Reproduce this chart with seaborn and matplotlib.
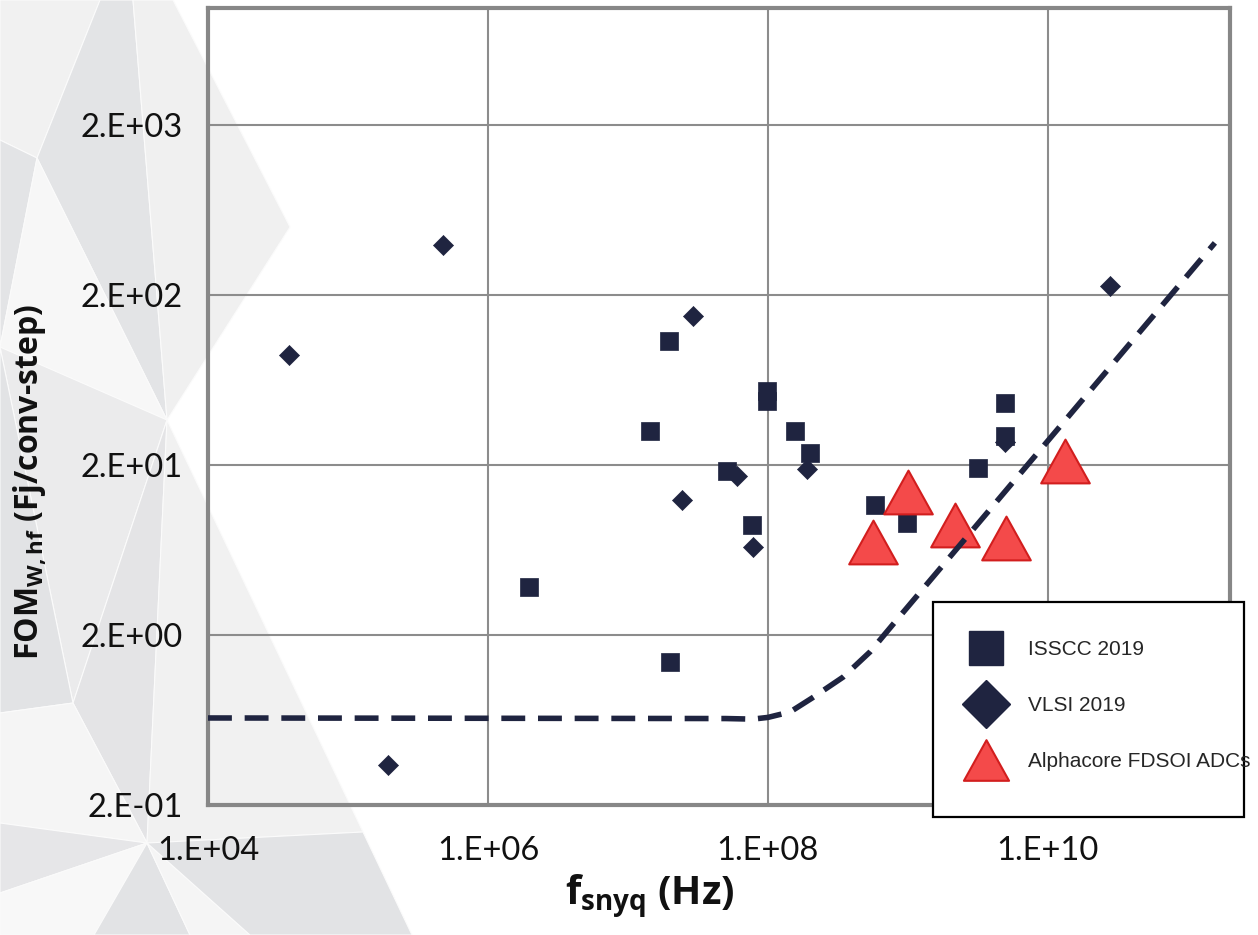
import numpy as np
import pandas as pd
import matplotlib
matplotlib.use("Agg")
import matplotlib.pyplot as plt
import seaborn as sns
from matplotlib.path import Path
from matplotlib.lines import Line2D
from matplotlib.patches import Polygon, Rectangle
from matplotlib.ticker import FixedLocator, FuncFormatter, NullLocator

# ---------------------------------------------------------------- data
# ISSCC 2019 converters: Nyquist frequency (Hz) and FOM_W,hf (fJ/conv-step)
isscc_f = [1.96e6, 1.44e7, 1.96e7, 2.0e7, 5.07e7, 7.69e7, 9.8e7, 9.8e7,
           1.57e8, 2.0e8, 5.78e8, 9.9e8, 3.16e9, 4.93e9, 4.93e9]
isscc_fom = [3.83, 31.8, 107.7, 1.39, 18.5, 8.83, 54.5, 47.3,
             31.8, 23.4, 11.6, 9.08, 19.3, 46.1, 29.6]

# VLSI 2019 converters
vlsi_f = [3.81e4, 1.94e5, 4.8e5, 2.44e7, 2.9e7, 6.04e7, 7.85e7, 1.91e8,
          4.93e9, 2.77e10]
vlsi_fom = [88.7, 0.344, 394, 12.4, 151, 17.3, 6.56, 18.9, 27.4, 227]

# Alphacore FDSOI ADCs
alpha_f = [5.6e8, 9.95e8, 2.17e9, 5.0e9, 1.32e10]
alpha_fom = [7.05, 13.9, 8.9, 7.46, 21.2]

# State-of-the-art envelope (dashed)
env_f = [1e4, 5e7, 7.8e7, 1.0e8, 1.44e8, 2.06e8, 3.44e8, 5.36e8, 8.07e8,
         1.56e11]
env_fom = [0.65, 0.645, 0.64, 0.655, 0.705, 0.85, 1.13, 1.59, 2.38, 405]

series_labels = ["ISSCC 2019", "VLSI 2019", "Alphacore FDSOI ADCs"]
x_ticks = [1e4, 1e6, 1e8, 1e10]
y_ticks = [2e-1, 2e0, 2e1, 2e2, 2e3]

# ---------------------------------------------------------------- style
sns.set_style("white")
plt.rcParams["font.family"] = ["Lato", "DejaVu Sans"]
plt.rcParams["mathtext.fontset"] = "custom"
plt.rcParams["mathtext.rm"] = "Open Sans"
plt.rcParams["mathtext.bf"] = "Open Sans:bold"
plt.rcParams["mathtext.it"] = "Open Sans:italic"

NAVY = "#1F2440"
RED = "#F44A4A"
RED_EDGE = "#D21E1E"
GRID = "#8C8C8C"
FRAME = "#878787"

W, H = 1258, 935
fig = plt.figure(figsize=(W / 100, H / 100), dpi=100)
fig.patch.set_facecolor("white")


def to_fig(pts):
    return [(x / W, 1 - y / H) for x, y in pts]


# low-poly slide backdrop on the left
A0, B, C, D = (0, 0), (100, 0), (133, 0), (173, 0)
E, F, G, Hh = (290, 227), (167, 420), (37, 158), (0, 140)
I, V1, J = (0, 347), (73, 703), (0, 713)
Hub, K, N = (147, 843), (363, 832), (412, 935)
Q1, Q2, Q3 = (0, 823), (0, 893), (0, 935)
R1, R2, R3 = (94, 935), (190, 935), (250, 935)
shards = [
    ([A0, B, G, Hh], "#F1F1F1"),
    ([B, C, F, G], "#E3E4E6"),
    ([C, D, E, F], "#F0F0F0"),
    ([Hh, G, I], "#E3E4E6"),
    ([G, F, I], "#F7F7F7"),
    ([I, F, V1], "#EBEBEC"),
    ([I, V1, J], "#E2E3E5"),
    ([F, Hub, V1], "#E4E4E6"),
    ([F, K, Hub], "#F1F1F1"),
    ([J, V1, Hub, Q1], "#F5F5F5"),
    ([Q1, Hub, Q2], "#E6E6E8"),
    ([Q2, Hub, R1, Q3], "#F8F8F8"),
    ([Hub, R1, R2], "#E2E3E5"),
    ([Hub, R2, R3], "#F5F5F5"),
    ([Hub, R3, N, K], "#E2E3E5"),
]
for pts, col in shards:
    fig.add_artist(Polygon(to_fig(pts), closed=True, facecolor=col,
                           edgecolor="#FBFBFB", lw=0.8,
                           transform=fig.transFigure, zorder=-10))

# ---------------------------------------------------------------- axes
ax = fig.add_axes([208 / W, 1 - 805 / H, (1230 - 208) / W, (805 - 8) / H])
ax.set_facecolor("none")
ax.set_xscale("log")
ax.set_yscale("log")
ax.set_xlim(1e4, 2e11)
ax.set_ylim(0.2, 9.75e3)

tri = Path([(0, 0.9), (-1, -0.9), (1, -0.9), (0, 0.9)],
           [Path.MOVETO, Path.LINETO, Path.LINETO, Path.CLOSEPOLY])

df_isscc = pd.DataFrame({"f": isscc_f, "fom": isscc_fom})
df_vlsi = pd.DataFrame({"f": vlsi_f, "fom": vlsi_fom})
df_alpha = pd.DataFrame({"f": alpha_f, "fom": alpha_fom})
df_env = pd.DataFrame({"f": env_f, "fom": env_fom})

sns.scatterplot(data=df_isscc, x="f", y="fom", marker="s", s=150,
                color=NAVY, edgecolor=NAVY, linewidth=0.5, ax=ax,
                legend=False, zorder=3)
sns.scatterplot(data=df_vlsi, x="f", y="fom", marker="D", s=104,
                color=NAVY, edgecolor=NAVY, linewidth=0.5, ax=ax,
                legend=False, zorder=3)
sns.scatterplot(data=df_alpha, x="f", y="fom", marker=tri, s=1225,
                color=RED, edgecolor=RED_EDGE, linewidth=1.5, ax=ax,
                legend=False, zorder=4)
sns.lineplot(data=df_env, x="f", y="fom", sort=False, estimator=None,
             color=NAVY, lw=4, ax=ax, zorder=5,
             linestyle=(0, (4.3, 2.3)), dash_capstyle="butt")


def sci_label(v, pos=None):
    e = int(np.floor(np.log10(v) + 1e-9))
    m = int(round(v / 10 ** e))
    return f"{m}.E{'+' if e >= 0 else '-'}{abs(e):02d}"


ax.xaxis.set_major_locator(FixedLocator(x_ticks))
ax.yaxis.set_major_locator(FixedLocator(y_ticks))
ax.xaxis.set_minor_locator(NullLocator())
ax.yaxis.set_minor_locator(NullLocator())
ax.xaxis.set_major_formatter(FuncFormatter(sci_label))
ax.yaxis.set_major_formatter(FuncFormatter(sci_label))
ax.tick_params(axis="both", which="both", length=0, labelsize=23.5,
               labelcolor="#111111")
ax.tick_params(axis="x", pad=22)
ax.tick_params(axis="y", pad=18)

ax.set_axisbelow(True)
ax.grid(True, which="major", color=GRID, lw=1.5)
for sp in ax.spines.values():
    sp.set_visible(True)
    sp.set_color(FRAME)
    sp.set_linewidth(3)

ax.set_xlabel(r"f$_{\mathbf{snyq}}$ (Hz)", fontsize=28.5, fontweight="bold",
              family="Open Sans", color="#111111")
ax.xaxis.set_label_coords((650 - 208) / 1022, -0.085)
ax.xaxis.label.set_verticalalignment("top")
ax.set_ylabel(r"FOM$_{\mathbf{W,hf}}$ (Fj/conv-step)", fontsize=23,
              fontweight="bold", family="Open Sans", color="#111111")
ax.yaxis.set_label_coords((49 - 208) / 1022, (805 - 482) / 797)

# ---------------------------------------------------------------- legend
fig.add_artist(Rectangle((933 / W, 1 - 817 / H), 311 / W, 215 / H,
                         transform=fig.transFigure, facecolor="white",
                         edgecolor="black", lw=1.6, zorder=9))
handles = [
    Line2D([], [], ls="none", marker="s", ms=24.5, color=NAVY, mec=NAVY),
    Line2D([], [], ls="none", marker="D", ms=24, color=NAVY, mec=NAVY),
    Line2D([], [], ls="none", marker=tri, ms=32.5, mfc=RED, mec=RED_EDGE,
           mew=1.5),
]
leg = fig.legend(handles, series_labels, loc="upper left",
                 bbox_to_anchor=(965 / W, 1 - 640 / H),
                 bbox_transform=fig.transFigure, frameon=False,
                 prop={"family": "Liberation Sans", "size": 15},
                 handlelength=2, handletextpad=1.0, labelspacing=1.78,
                 borderpad=0, borderaxespad=0)
leg.set_zorder(10)

fig.savefig("out.png", dpi=100, facecolor=fig.get_facecolor())
